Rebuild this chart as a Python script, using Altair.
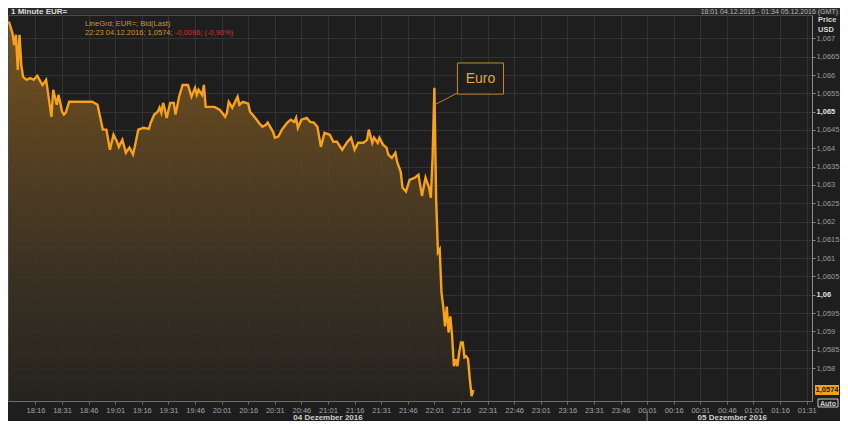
import altair as alt
import pandas as pd

# ---------------- data ----------------
times = [
    "18:01", "18:03", "18:04", "18:05", "18:06", "18:07", "18:08", "18:09", "18:11", "18:13",
    "18:15", "18:17", "18:19", "18:20", "18:22", "18:23", "18:25", "18:26", "18:28", "18:29",
    "18:31", "18:32", "18:33", "18:35", "18:38", "18:48", "18:51", "18:54", "18:56", "18:58",
    "19:00", "19:02", "19:03", "19:05", "19:07", "19:09", "19:11", "19:12", "19:14", "19:17",
    "19:20", "19:21", "19:23", "19:25", "19:26", "19:27", "19:28", "19:29", "19:30", "19:32",
    "19:34", "19:35", "19:37", "19:39", "19:42", "19:44", "19:46", "19:47", "19:48", "19:50",
    "19:51", "19:52", "19:54", "19:57", "20:00", "20:03", "20:04", "20:05", "20:07", "20:10",
    "20:11", "20:13", "20:16", "20:17", "20:20", "20:22", "20:24", "20:26", "20:27", "20:30",
    "20:31", "20:33", "20:35", "20:38", "20:40", "20:42", "20:43", "20:44", "20:46", "20:49",
    "20:51", "20:53", "20:55", "20:57", "20:59", "21:02", "21:04", "21:06", "21:09", "21:12",
    "21:14", "21:16", "21:18", "21:21", "21:23", "21:24", "21:26", "21:27", "21:29", "21:30",
    "21:32", "21:34", "21:35", "21:37", "21:39", "21:40", "21:42", "21:43", "21:45", "21:47",
    "21:50", "21:52", "21:54", "21:56", "21:57", "21:58", "21:59", "22:00", "22:01", "22:02",
    "22:03", "22:04", "22:05", "22:06", "22:07", "22:08", "22:09", "22:10", "22:11", "22:12",
    "22:13", "22:14", "22:15", "22:16", "22:17", "22:18", "22:19", "22:20", "22:21", "22:22",
    "22:23",
]
prices = [
    1.06746, 1.06715, 1.06682, 1.06710, 1.06614, 1.06710, 1.06628, 1.06595, 1.06587, 1.06592,
    1.06587, 1.06598, 1.06581, 1.06573, 1.06587, 1.06554, 1.06486, 1.06560, 1.06519, 1.06546,
    1.06500, 1.06492, 1.06497, 1.06527, 1.06527, 1.06527, 1.06519, 1.06451, 1.06451, 1.06396,
    1.06437, 1.06418, 1.06404, 1.06423, 1.06388, 1.06402, 1.06383, 1.06404, 1.06451, 1.06456,
    1.06453, 1.06470, 1.06492, 1.06500, 1.06511, 1.06497, 1.06524, 1.06505, 1.06483, 1.06524,
    1.06524, 1.06492, 1.06541, 1.06573, 1.06573, 1.06541, 1.06565, 1.06546, 1.06560, 1.06546,
    1.06573, 1.06513, 1.06513, 1.06513, 1.06505, 1.06486, 1.06497, 1.06527, 1.06511, 1.06541,
    1.06519, 1.06527, 1.06522, 1.06500, 1.06483, 1.06470, 1.06459, 1.06464, 1.06470, 1.06445,
    1.06429, 1.06432, 1.06451, 1.06470, 1.06478, 1.06472, 1.06483, 1.06456, 1.06478, 1.06483,
    1.06472, 1.06470, 1.06459, 1.06404, 1.06442, 1.06437, 1.06418, 1.06418, 1.06396, 1.06418,
    1.06429, 1.06396, 1.06415, 1.06415, 1.06423, 1.06451, 1.06415, 1.06429, 1.06415, 1.06429,
    1.06410, 1.06402, 1.06383, 1.06374, 1.06388, 1.06363, 1.06336, 1.06293, 1.06282, 1.06314,
    1.06320, 1.06328, 1.06270, 1.06320, 1.06306, 1.06293, 1.06265, 1.06377, 1.06565, 1.06260,
    1.06116, 1.06124, 1.06006, 1.05968, 1.05914, 1.05968, 1.05897, 1.05941, 1.05887, 1.05805,
    1.05824, 1.05805, 1.05843, 1.05870, 1.05870, 1.05829, 1.05832, 1.05824, 1.05769, 1.05723,
    1.05740,
]

y_ticks = [1.058, 1.0585, 1.059, 1.0595, 1.06, 1.0605, 1.061, 1.0615, 1.062,
           1.0625, 1.063, 1.0635, 1.064, 1.0645, 1.065, 1.0655, 1.066, 1.0665, 1.067]
bold_ticks = [1.065, 1.06]
x_tick_minutes = list(range(15, 451, 15))      # 18:16 ... 01:31

title_left = "1 Minute EUR="
title_right = "18:01 04.12.2016 - 01:34 05.12.2016 (GMT)"
legend_line1 = "LineGrd; EUR=; Bid(Last)"
legend_line2 = "22:23 04.12.2016; 1,0574; "
legend_change = "-0,0096; (-0,90%)"
last_price = 1.0574
last_label = "1,0574"
day_labels = ["04 Dezember 2016", "05 Dezember 2016"]
day_label_times = ["21:01", "00:49"]
day_break_time = "00:01"
annot_text = "Euro"
annot_box_times = ["22:14", "22:40"]
annot_box_prices = [1.06548, 1.06633]
annot_anchor_time = "22:01"
annot_anchor_price = 1.06520

START = 18 * 60 + 1


def minute_of(s):
    h, m = (int(p) for p in s.split(":"))
    t = h * 60 + m
    if t < START:
        t += 1440
    return t - START


df = pd.DataFrame({"m": [minute_of(t) for t in times], "price": prices})
one = pd.DataFrame({"k": [0]})

W, H = 804, 386
X_DOM = [-0.5, 453]
Y_DOM = [1.0571, 1.06764]
FONT = "Liberation Sans"
ORANGE = "#f7a11c"

xscale = alt.Scale(domain=X_DOM, nice=False, zero=False)
yscale = alt.Scale(domain=Y_DOM, nice=False, zero=False)

bold_test = " || ".join(f"abs(datum.value - {v}) < 0.00001" for v in bold_ticks)

x_enc = alt.X(
    "m:Q", scale=xscale, title=None,
    axis=alt.Axis(
        values=x_tick_minutes, tickCount=len(x_tick_minutes) + 5,
        labelExpr="timeFormat(datetime(2016, 11, 4, 18, 1 + datum.value), '%H:%M')",
        labelOverlap=False, labelFlush=False,
    ),
)
y_enc = alt.Y(
    "price:Q", scale=yscale, title=None,
    axis=alt.Axis(
        orient="right", values=y_ticks, tickCount=len(y_ticks) + 5,
        labelExpr="replace(format(datum.value, '.4~f'), '.', ',')",
        labelColor={"condition": {"test": bold_test, "value": "#e0e0e0"}, "value": "#9a9a9a"},
        labelFontWeight={"condition": {"test": bold_test, "value": "bold"}, "value": "normal"},
        labelOverlap=False,
    ),
)

base = alt.Chart(df)

gradient = alt.Gradient(
    gradient="linear",
    stops=[
        alt.GradientStop(color="#80591f", offset=0),
        alt.GradientStop(color="#5a4322", offset=0.35),
        alt.GradientStop(color="#3a3123", offset=0.7),
        alt.GradientStop(color="#27241f", offset=1),
    ],
    x1=0, x2=0, y1=0, y2=1,
)

area = base.mark_area(color=gradient, fillOpacity=0.9, clip=True).encode(
    x=x_enc, y=y_enc, y2=alt.datum(Y_DOM[0]))
line = base.mark_line(color=ORANGE, strokeWidth=2.4, interpolate="linear").encode(x=x_enc, y=y_enc)

# annotation "Euro"
ann = alt.Chart(one)
ann_line = ann.mark_rule(color="#b8823a", strokeWidth=1).encode(
    x=alt.datum(minute_of(annot_box_times[0]), scale=xscale),
    y=alt.datum(annot_box_prices[0] + 0.00003, scale=yscale),
    x2=alt.datum(minute_of(annot_anchor_time) + 0.6),
    y2=alt.datum(annot_anchor_price),
)
ann_box = ann.mark_rect(fill="#1e1e1e", stroke="#c48a35", strokeWidth=1).encode(
    x=alt.datum(minute_of(annot_box_times[0]), scale=xscale),
    x2=alt.datum(minute_of(annot_box_times[1])),
    y=alt.datum(annot_box_prices[0], scale=yscale),
    y2=alt.datum(annot_box_prices[1]),
)
ann_text = ann.mark_text(text=annot_text, color="#eaa444", font=FONT, fontSize=14,
                         align="center", baseline="middle").encode(
    x=alt.datum((minute_of(annot_box_times[0]) + minute_of(annot_box_times[1])) / 2, scale=xscale),
    y=alt.datum((annot_box_prices[0] + annot_box_prices[1]) / 2, scale=yscale),
)

# header
hdr_band = alt.Chart(one).mark_rect(color="#2b2b2b").encode(
    x=alt.value(0), x2=alt.value(W + 28), y=alt.value(-7), y2=alt.value(-0.5))
hdr_left = alt.Chart(one).mark_text(text=title_left, color="#dcdcdc", font=FONT, fontSize=8,
                                    fontWeight="bold", align="left", baseline="alphabetic").encode(
    x=alt.value(3), y=alt.value(-1))
hdr_right = alt.Chart(one).mark_text(text=title_right, color="#b4b4b4", font=FONT, fontSize=7,
                                     align="right", baseline="alphabetic").encode(
    x=alt.value(W + 26), y=alt.value(-1.5))

leg1 = alt.Chart(one).mark_text(text=legend_line1, color="#d2923a", font=FONT, fontSize=7.5,
                                align="left", baseline="middle").encode(x=alt.value(77), y=alt.value(9))
leg2 = alt.Chart(one).mark_text(text=legend_line2, color="#d2923a", font=FONT, fontSize=7.5,
                                align="left", baseline="middle").encode(x=alt.value(77), y=alt.value(17.5))
leg3 = alt.Chart(one).mark_text(text=legend_change, color="#d0342c", font=FONT, fontSize=7.5,
                                align="left", baseline="middle").encode(x=alt.value(167), y=alt.value(17.5))

price_lbl = alt.Chart(one).mark_text(text="Price", color="#d8d8d8", font=FONT, fontSize=7.5,
                                     fontWeight="bold", align="left", baseline="middle").encode(
    x=alt.value(810), y=alt.value(5))
usd_lbl = alt.Chart(one).mark_text(text="USD", color="#d8d8d8", font=FONT, fontSize=7.5,
                                   fontWeight="bold", align="left", baseline="middle").encode(
    x=alt.value(810), y=alt.value(14.5))

last_box = alt.Chart(one).mark_tick(color="#f2a21a", orient="horizontal", size=24, thickness=10,
                                    opacity=1).encode(
    x=alt.value(819), y=alt.datum(last_price, scale=yscale))
last_txt = alt.Chart(one).mark_text(text=last_label, color="#1a1a1a", font=FONT, fontSize=7.5,
                                    fontWeight="bold", align="center", baseline="middle").encode(
    x=alt.value(819), y=alt.datum(last_price, scale=yscale))

auto_box = alt.Chart(one).mark_rect(fill="#1e1e1e", stroke="#c8c8c8", strokeWidth=1).encode(
    x=alt.value(810), x2=alt.value(830), y=alt.value(384), y2=alt.value(392))
auto_txt = alt.Chart(one).mark_text(text="Auto", color="#d0d0d0", font=FONT, fontSize=7,
                                    fontWeight="bold", align="center", baseline="middle").encode(
    x=alt.value(820), y=alt.value(388.5))

days = pd.DataFrame({"label": day_labels, "m": [minute_of(t) for t in day_label_times]})
day_txt = alt.Chart(days).mark_text(color="#cfcfcf", font=FONT, fontSize=8, fontWeight="bold",
                                    align="center", baseline="alphabetic").encode(
    x=alt.X("m:Q", scale=xscale), y=alt.value(H + 19), text="label:N")
day_rule = alt.Chart(one).mark_rule(color="#8a8a8a", strokeWidth=1).encode(
    x=alt.datum(minute_of(day_break_time), scale=xscale), y=alt.value(H + 10), y2=alt.value(H + 20))

chart = alt.layer(
    hdr_band, area, line, ann_line, ann_box, ann_text,
    hdr_left, hdr_right, leg1, leg2, leg3, price_lbl, usd_lbl,
    last_box, last_txt, auto_box, auto_txt, day_txt, day_rule,
).properties(
    width=W, height=H, background="#1e1e1e",
    padding={"left": 0, "top": 7, "right": 28, "bottom": 20},
    autosize=alt.AutoSizeParams(type="none"),
).configure_view(
    fill="#1e1e1e", stroke="#4c4c4c", strokeWidth=1,
).configure_axis(
    grid=True, gridColor="#323335", gridWidth=1,
    labelOverlap=False, labelFont=FONT, labelColor="#a4a4a4",
    tickSize=3, labelPadding=1,
).configure_axisX(
    domainColor="#6e6e6e", tickColor="#6e6e6e", labelFontSize=7.5, labelPadding=2,
).configure_axisY(
    domainColor="#8a8a8a", tickColor="#8a8a8a", labelFontSize=7.5,
)

chart.save("out.html", embed_options={"renderer": "svg", "actions": False})
